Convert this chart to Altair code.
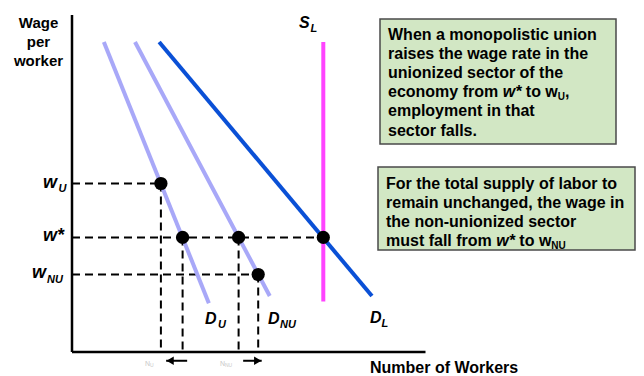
import altair as alt
import pandas as pd

FONT = "Liberation Sans"

# ---------------- data (abstract units: workers 0-100, wage 0-100) ----------------
curve_names = ["S_L", "S_L", "D_U", "D_U", "D_NU", "D_NU", "D_L", "D_L"]
curve_workers = [71.8, 71.8, 9.1, 39.1, 18.0, 56.5, 24.9, 85.7]
curve_wage = [92.0, 15.0, 92.0, 14.5, 92.0, 16.6, 92.0, 16.6]
curve_order = ["S_L", "D_U", "D_NU", "D_L"]
curve_colors = ["#ff44ff", "#a8a8f8", "#a8a8f8", "#0a50d6"]

wage_levels = {"w_U": 50.0, "w*": 34.0, "w_NU": 23.0}

point_workers = [25.4, 31.6, 47.6, 71.8, 53.2]
point_wage = [50.0, 34.0, 34.0, 34.0, 23.0]

hguide_wage = [50.0, 34.0, 23.0]
hguide_end = [25.4, 71.8, 53.2]

vguide_workers = [25.4, 31.6, 47.6, 53.2]
vguide_top = [50.0, 34.0, 34.0, 23.0]

arrow_tail = [32.9, 48.9]
arrow_tip = [26.9, 54.2]
arrow_level = [-2.6, -2.6]
arrow_shape = ["triangle-left", "triangle-right"]

axis_x_max = 101.0
axis_y_max = 100.0

box1_lines = ["When a monopolistic union", "raises the wage rate in the",
              "unionized sector of the", None, "employment in that", "sector falls."]
box1_line4 = [("economy", "n"), ("from", "n"), ("w*", "i"), ("to", "n"), ("w", "n"), ("U", "s"), (",", "n0")]
box2_lines = ["For the total supply of labor to", "remain unchanged, the wage in",
              "the non-unionized sector", None]
box2_line4 = [("must", "n"), ("fall", "n"), ("from", "n"), ("w*", "i"), ("to", "n"), ("w", "n"), ("NU", "s")]

# ---------------- scales ----------------
xs = alt.Scale(domain=[0, 100], range=[64, 414], nice=False, zero=False)
ys = alt.Scale(domain=[0, 100], range=[344, 7], nice=False, zero=False)

def X(f):
    return alt.X(f, type="quantitative", scale=xs, axis=None)

def Y(f):
    return alt.Y(f, type="quantitative", scale=ys, axis=None)

one = pd.DataFrame({"k": [0]})

# Arial-bold advance widths (per 1000 em) for placing mixed-style segments
W = {" ": 278, "a": 556, "c": 556, "e": 556, "f": 333, "l": 278, "m": 889, "n": 611,
     "o": 611, "r": 389, "s": 556, "t": 333, "u": 611, "w": 778, "y": 556, "*": 389,
     "U": 722, "N": 722, ",": 278}

def width(s, size):
    return sum(W.get(c, 556) for c in s) * size / 1000.0

def txt(text, x, y, size, italic=False, color="black", align="left", lh=None, weight="bold"):
    kw = dict(font=FONT, fontSize=size, fontWeight=weight, color=color, align=align,
              baseline="alphabetic")
    if italic:
        kw["fontStyle"] = "italic"
    if lh:
        kw["lineHeight"] = lh
    return alt.Chart(one).mark_text(**kw).encode(
        x=alt.value(x), y=alt.value(y), text=alt.value(text))

layers = []

# axes
layers.append(alt.Chart(one).mark_rule(color="black", strokeWidth=2.5).encode(
    x=alt.X(datum=0, scale=xs, axis=None), y=alt.Y(datum=0, scale=ys, axis=None),
    y2=alt.Y2(datum=axis_y_max)))
layers.append(alt.Chart(one).mark_rule(color="black", strokeWidth=2.5).encode(
    x=alt.X(datum=0, scale=xs, axis=None), x2=alt.X2(datum=axis_x_max),
    y=alt.Y(datum=0, scale=ys, axis=None)))

# dashed guides
hg = pd.DataFrame({"wage": hguide_wage, "start": [0.0] * len(hguide_wage), "end": hguide_end})
layers.append(alt.Chart(hg).mark_rule(color="black", strokeWidth=2, strokeDash=[8, 5]).encode(
    x=X("start"), x2="end", y=Y("wage")))
vg = pd.DataFrame({"workers": vguide_workers, "top": vguide_top, "bottom": [0.0] * len(vguide_top)})
layers.append(alt.Chart(vg).mark_rule(color="black", strokeWidth=2, strokeDash=[8, 5]).encode(
    x=X("workers"), y=Y("top"), y2="bottom"))

# curves
cv = pd.DataFrame({"name": curve_names, "workers": curve_workers, "wage": curve_wage})
layers.append(alt.Chart(cv).mark_line(strokeWidth=4, strokeCap="butt").encode(
    x=X("workers"), y=Y("wage"),
    color=alt.Color("name:N", scale=alt.Scale(domain=curve_order, range=curve_colors), legend=None),
    detail="name:N"))

# points
pt = pd.DataFrame({"workers": point_workers, "wage": point_wage})
layers.append(alt.Chart(pt).mark_circle(size=175, color="black", opacity=1).encode(
    x=X("workers"), y=Y("wage")))

# arrows
ar = pd.DataFrame({"tail": arrow_tail, "tip": arrow_tip, "lvl": arrow_level, "shape": arrow_shape})
layers.append(alt.Chart(ar).mark_rule(color="black", strokeWidth=2).encode(
    x=X("tail"), x2="tip", y=Y("lvl")))
layers.append(alt.Chart(ar[ar["shape"] == "triangle-left"]).mark_point(
    shape="triangle-left", filled=True, color="black", size=70, opacity=1, xOffset=4).encode(
    x=X("tip"), y=Y("lvl")))
layers.append(alt.Chart(ar[ar["shape"] == "triangle-right"]).mark_point(
    shape="triangle-right", filled=True, color="black", size=70, opacity=1, xOffset=-4).encode(
    x=X("tip"), y=Y("lvl")))

# wage tick labels (w with subscripts)
label_pos = {"w_U": (35, 50.5), "w*": (35, None), "w_NU": (24, 39)}
for key, lvl in wage_levels.items():
    d = pd.DataFrame({"wage": [lvl]})
    mx, sx = label_pos[key]
    main = "w*" if key == "w*" else "w"
    layers.append(alt.Chart(d).mark_text(font=FONT, fontSize=18, fontWeight="bold",
                                         fontStyle="italic", align="left", baseline="alphabetic",
                                         dy=4, color="black").encode(
        x=alt.value(mx), y=Y("wage"), text=alt.value(main)))
    if sx is not None:
        sub = key.split("_")[1]
        layers.append(alt.Chart(d).mark_text(font=FONT, fontSize=11, fontWeight="bold",
                                             fontStyle="italic", align="left",
                                             baseline="alphabetic", dy=8.5, color="black").encode(
            x=alt.value(sx), y=Y("wage"), text=alt.value(sub)))

# curve labels
for main, sub, mx, my, sx, sy in [("D", "U", 197, 316, 210, 319.5),
                                  ("D", "NU", 260, 316, 272, 319.5),
                                  ("D", "L", 362, 315, 373.5, 318.5),
                                  ("S", "L", 291, 20.3, 302.5, 23.5)]:
    layers.append(txt(main, mx, my, 16, italic=True))
    layers.append(txt(sub, sx, sy, 11, italic=True))

# faint tiny labels under the arrows
layers.append(txt("N", 137, 358, 7, color="#c8c8c8", weight="normal"))
layers.append(txt("U", 142, 359, 5, color="#c8c8c8", weight="normal"))
layers.append(txt("N", 212, 358, 7, color="#c8c8c8", weight="normal"))
layers.append(txt("NU", 217, 359, 5, color="#c8c8c8", weight="normal"))

# axis titles
layers.append(txt(["Wage", "per", "worker"], 30.5, 20.3, 15, align="center", lh=18.7))
layers.append(txt("Number of Workers", 362, 365, 16))

# text boxes
BOX_FILL = "#d2e7c4"
BOX_STROKE = "#4a4a4a"
layers.append(alt.Chart(one).mark_rect(fill=BOX_FILL, stroke=BOX_STROKE, strokeWidth=1.5).encode(
    x=alt.value(372), x2=alt.value(608), y=alt.value(11), y2=alt.value(136)))
layers.append(alt.Chart(one).mark_rect(fill=BOX_FILL, stroke=BOX_STROKE, strokeWidth=1.5).encode(
    x=alt.value(370), x2=alt.value(627), y=alt.value(159), y2=alt.value(242)))

FS = 16
SUB = 10

def box_text(lines, segs, x0, y0, lh):
    out = []
    for i, line in enumerate(lines):
        y = y0 + i * lh
        if line is not None:
            out.append(txt(line, x0, y, FS))
        else:
            x = x0
            first = True
            for s, kind in segs:
                if kind in ("n", "i") and not first:
                    x += width(" ", FS)
                first = False
                if kind == "s":
                    out.append(txt(s, x, y + 3, SUB))
                    x += width(s, SUB)
                else:
                    out.append(txt(s, x, y, FS, italic=(kind == "i")))
                    x += width(s, FS)
    return out

layers += box_text(box1_lines, box1_line4, 380, 32, 19.1)
layers += box_text(box2_lines, box2_line4, 378, 181, 19.0)

chart = alt.layer(*layers).properties(
    width=628, height=367, padding=0, autosize="none", background="white"
).configure_view(stroke=None)

chart.save("out.html", embed_options={"renderer": "svg", "actions": False})
